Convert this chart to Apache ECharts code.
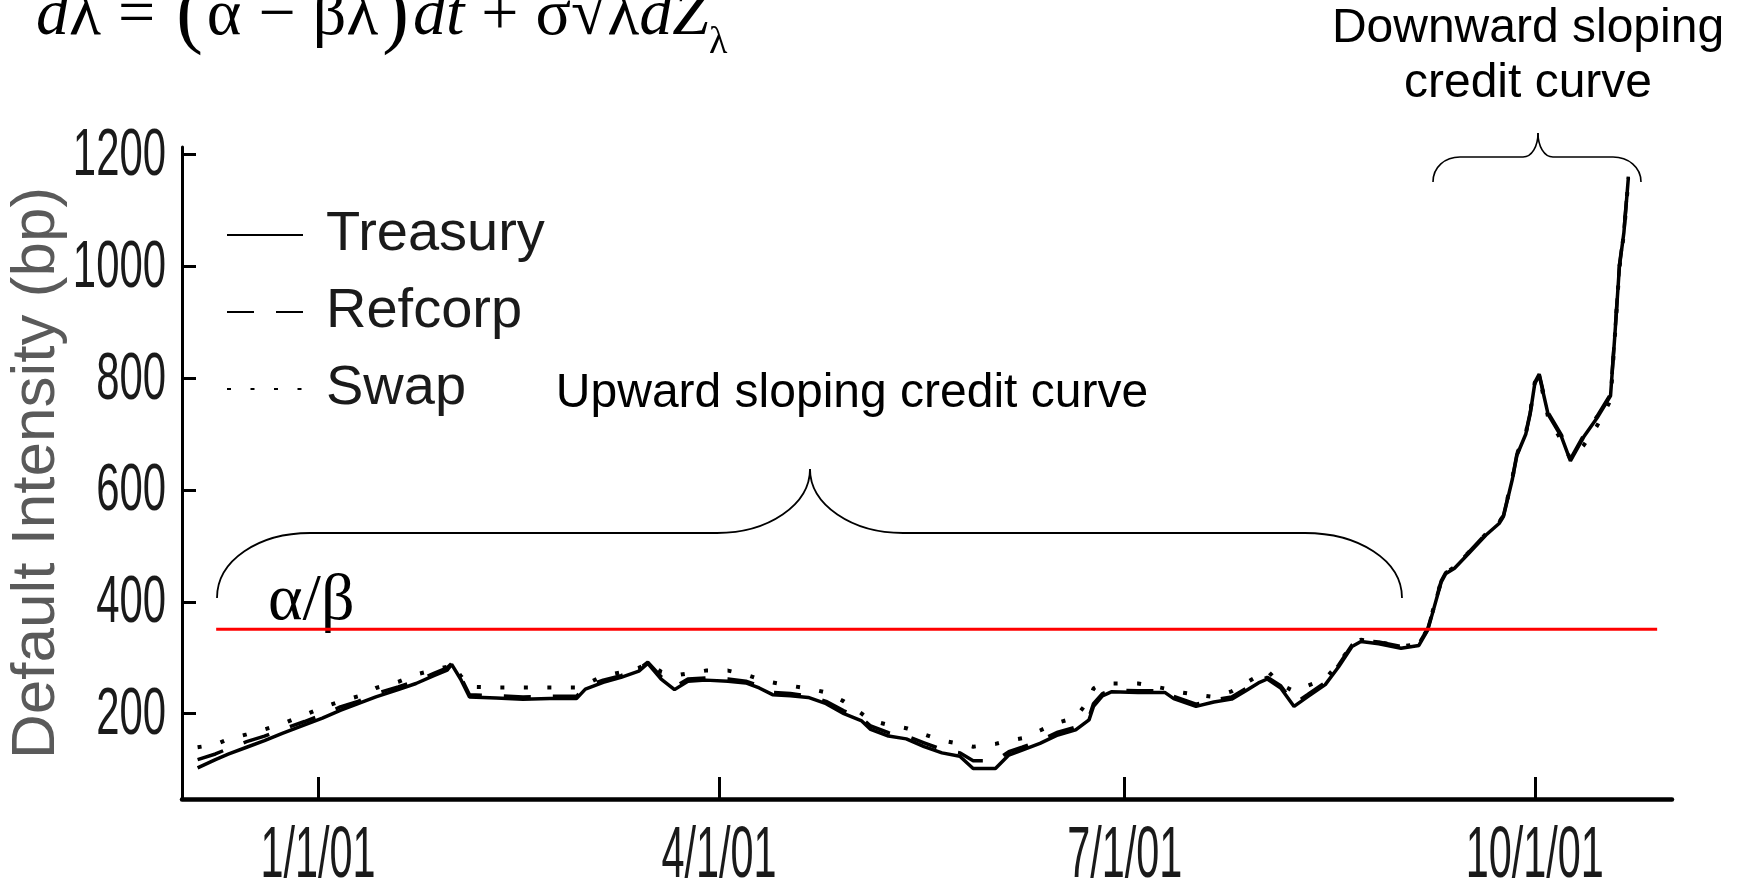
<!DOCTYPE html>
<html>
<head>
<meta charset="utf-8">
<script src="https://cdn.jsdelivr.net/npm/echarts@6/dist/echarts.min.js"></script>
<style>
html,body{margin:0;padding:0;background:#ffffff;}
#chart{width:1741px;height:887px;}
</style>
</head>
<body>
<div id="chart"></div>
<script>
// ---------------- DATA ----------------
const dates = [
  '2000-12-05','2000-12-09','2000-12-12','2000-12-16','2000-12-20','2000-12-24','2000-12-29',
  '2001-01-02','2001-01-06','2001-01-10','2001-01-14','2001-01-19','2001-01-23','2001-01-27','2001-01-30','2001-01-31',
  '2001-02-02','2001-02-04','2001-02-10','2001-02-16','2001-02-22','2001-02-28',
  '2001-03-02','2001-03-06','2001-03-10','2001-03-14','2001-03-16','2001-03-19','2001-03-22','2001-03-25','2001-03-29',
  '2001-04-03','2001-04-07','2001-04-10','2001-04-13','2001-04-17','2001-04-21','2001-04-25','2001-04-29',
  '2001-05-03','2001-05-05','2001-05-09','2001-05-13','2001-05-17','2001-05-21','2001-05-25','2001-05-28',
  '2001-06-02','2001-06-05','2001-06-08','2001-06-12','2001-06-16','2001-06-20','2001-06-23','2001-06-24','2001-06-26','2001-06-28',
  '2001-07-04','2001-07-10','2001-07-12','2001-07-17','2001-07-21','2001-07-25','2001-07-28','2001-07-31',
  '2001-08-02','2001-08-05','2001-08-08','2001-08-11','2001-08-15','2001-08-18','2001-08-21','2001-08-23','2001-08-27',
  '2001-09-01','2001-09-05','2001-09-07','2001-09-08','2001-09-10','2001-09-11','2001-09-13','2001-09-16','2001-09-20','2001-09-23','2001-09-24','2001-09-26','2001-09-27','2001-09-29','2001-09-30',
  '2001-10-01','2001-10-02','2001-10-04','2001-10-07','2001-10-09','2001-10-12','2001-10-15','2001-10-18','2001-10-19','2001-10-20','2001-10-21','2001-10-22'
];
const treasury = [
  103,118,128,140,152,165,180,
  192,206,218,230,243,254,268,278,288,
  262,230,228,226,227,227,
  244,256,265,276,290,262,243,258,260,
  258,255,246,234,232,229,218,200,
  187,172,160,155,141,130,124,102,
  102,126,135,147,162,171,189,213,232,239,
  238,238,227,213,221,226,240,255,
  262,246,213,230,252,284,320,329,325,
  317,322,350,378,435,450,460,485,519,540,553,620,662,700,737,
  790,805,735,695,652,695,729,768,880,1000,1060,1158
];
const refcorp = [
  118,128,138,150,160,172,186,
  198,212,222,236,248,258,272,282,290,
  266,234,232,230,231,231,
  248,260,268,280,292,266,248,262,264,
  262,258,250,238,236,232,222,205,
  192,178,166,160,148,136,130,116,
  116,132,140,152,167,176,194,218,236,242,
  241,241,231,217,225,230,244,258,
  265,250,218,234,256,287,323,331,328,
  320,325,352,380,437,452,462,487,521,542,555,622,664,702,739,
  792,807,738,698,655,698,732,771,882,1002,1062,1160
];
const swap = [
  140,145,155,163,172,182,198,
  211,222,231,246,257,270,278,284,290,
  268,248,247,247,247,247,
  252,268,274,282,290,275,268,272,277,
  277,270,262,256,250,245,238,222,
  200,188,180,174,163,152,146,141,
  146,152,156,170,184,193,225,245,254,254,
  254,245,240,234,230,240,254,268,
  277,252,240,250,262,290,323,332,328,
  320,325,352,380,437,452,462,487,521,542,555,622,664,702,739,
  792,803,730,688,655,680,715,760,878,998,1058,1155
];
const seriesNames = ['Treasury', 'Refcorp', 'Swap'];
const alphaBetaLevel = 351;
const alphaBetaSpan = ['2000-12-09T04:00', '2001-10-28T11:00'];
const xTickDates = ['2001-01-01', '2001-04-01', '2001-07-01', '2001-10-01'];
const xTickLabels = ['1/1/01', '4/1/01', '7/1/01', '10/1/01'];
const yTicks = [200, 400, 600, 800, 1000, 1200];
const yTickLabels = ['200', '400', '600', '800', '1000', '1200'];
const xRange = ['2000-12-01T12:00', '2001-10-31T19:00'];
const yRange = [47.5, 1213];

// ---------------- HELPERS ----------------
// dates are placed on a numeric axis measured in days since 2001-01-01
const EPOCH = Date.UTC(2001, 0, 1);
function dayNum(s) {
  const [d, t] = s.split('T');
  const [y, m, dd] = d.split('-').map(Number);
  let hh = 0, mm = 0;
  if (t) { [hh, mm] = t.split(':').map(Number); }
  return (Date.UTC(y, m - 1, dd, hh, mm) - EPOCH) / 86400000;
}
const xTickDays = xTickDates.map(dayNum);
const pairs = arr => dates.map((d, i) => [dayNum(d), arr[i]]);

const SERIF = "'Liberation Serif','Times New Roman',serif";
const SANS = "'Liberation Sans',Arial,sans-serif";

const chart = echarts.init(document.getElementById('chart'), null, {renderer: 'canvas'});

const lineBase = {type: 'line', symbol: 'none', showSymbol: false, smooth: false, silent: true};

const annotations = [
  // formula
  {type: 'text', x: 36, y: -24, silent: true, style: {
    text: '{i|d}{g|λ}{o|=}{p|(}{g|α}{o|−}{g|βλ}{p|)}{i|dt}{o|+}{g|σ√λ}{i|dZ}{s|λ}',
    fill: '#000',
    rich: {
      i: {fontFamily: SERIF, fontStyle: 'italic', fontSize: 66, lineHeight: 66, verticalAlign: 'middle'},
      g: {fontFamily: SERIF, fontSize: 66, lineHeight: 66, verticalAlign: 'middle'},
      o: {fontFamily: SERIF, fontSize: 66, lineHeight: 66, verticalAlign: 'middle', padding: [0, 17, 0, 17]},
      p: {fontFamily: SERIF, fontSize: 80, lineHeight: 82, verticalAlign: 'middle', padding: [0, 4, 0, 4]},
      s: {fontFamily: SERIF, fontSize: 38, lineHeight: 38, verticalAlign: 'middle', padding: [52, 0, 0, 0]}
    }
  }},
  // annotation texts
  {type: 'text', x: 1528, y: 1, silent: true, style: {
    text: 'Downward sloping\ncredit curve', fill: '#000',
    fontFamily: SANS, fontSize: 48, lineHeight: 55, align: 'center', verticalAlign: 'top'}},
  {type: 'text', x: 852, y: 366, silent: true, style: {
    text: 'Upward sloping credit curve', fill: '#000', fontFamily: SANS, fontSize: 48,
    lineHeight: 55, align: 'center', verticalAlign: 'top'}},
  {type: 'text', x: 268, y: 571, silent: true, style: {
    text: 'α/β', fill: '#000', fontFamily: SERIF, fontSize: 66, lineHeight: 62, align: 'left', verticalAlign: 'top'}},
  // big brace
  {type: 'bezierCurve', silent: true, shape: {x1: 217, y1: 598, cpx1: 217, cpy1: 560, cpx2: 259, cpy2: 533, x2: 310, y2: 533}, style: {stroke: '#000', lineWidth: 1.8, fill: null}},
  {type: 'line', silent: true, shape: {x1: 310, y1: 533, x2: 717, y2: 533}, style: {stroke: '#000', lineWidth: 1.8}},
  {type: 'bezierCurve', silent: true, shape: {x1: 717, y1: 533, cpx1: 768, cpy1: 533, cpx2: 810, cpy2: 505, x2: 810, y2: 469}, style: {stroke: '#000', lineWidth: 1.8, fill: null}},
  {type: 'bezierCurve', silent: true, shape: {x1: 810, y1: 469, cpx1: 810, cpy1: 505, cpx2: 852, cpy2: 533, x2: 903, y2: 533}, style: {stroke: '#000', lineWidth: 1.8, fill: null}},
  {type: 'line', silent: true, shape: {x1: 903, y1: 533, x2: 1305, y2: 533}, style: {stroke: '#000', lineWidth: 1.8}},
  {type: 'bezierCurve', silent: true, shape: {x1: 1305, y1: 533, cpx1: 1358, cpy1: 533, cpx2: 1402, cpy2: 560, x2: 1402, y2: 598}, style: {stroke: '#000', lineWidth: 1.8, fill: null}},
  // small brace
  {type: 'bezierCurve', silent: true, shape: {x1: 1433, y1: 182, cpx1: 1433, cpy1: 167, cpx2: 1445, cpy2: 157, x2: 1460, y2: 157}, style: {stroke: '#000', lineWidth: 1.6, fill: null}},
  {type: 'line', silent: true, shape: {x1: 1460, y1: 157, x2: 1523, y2: 157}, style: {stroke: '#000', lineWidth: 1.6}},
  {type: 'bezierCurve', silent: true, shape: {x1: 1523, y1: 157, cpx1: 1532, cpy1: 157, cpx2: 1538, cpy2: 146, x2: 1538, y2: 133}, style: {stroke: '#000', lineWidth: 1.6, fill: null}},
  {type: 'bezierCurve', silent: true, shape: {x1: 1538, y1: 133, cpx1: 1538, cpy1: 146, cpx2: 1544, cpy2: 157, x2: 1553, y2: 157}, style: {stroke: '#000', lineWidth: 1.6, fill: null}},
  {type: 'line', silent: true, shape: {x1: 1553, y1: 157, x2: 1613, y2: 157}, style: {stroke: '#000', lineWidth: 1.6}},
  {type: 'bezierCurve', silent: true, shape: {x1: 1613, y1: 157, cpx1: 1628, cpy1: 157, cpx2: 1641, cpy2: 167, x2: 1641, y2: 182}, style: {stroke: '#000', lineWidth: 1.6, fill: null}}
];

const option = {
  animation: false,
  backgroundColor: '#ffffff',
  grid: {left: 182, right: 69, top: 147, bottom: 88, containLabel: false, outerBoundsMode: 'none'},
  legend: {
    data: seriesNames,
    orient: 'vertical',
    left: 221,
    top: 200,
    itemWidth: 76,
    itemHeight: 14,
    itemGap: 17,
    selectedMode: false,
    itemStyle: {opacity: 0, borderWidth: 0},
    textStyle: {fontFamily: SANS, fontSize: 56, lineHeight: 60, color: '#1a1a1a', padding: [0, 0, 0, 18]}
  },
  xAxis: {
    type: 'value',
    min: dayNum(xRange[0]),
    max: dayNum(xRange[1]),
    axisLine: {show: true, onZero: false, lineStyle: {color: '#000', width: 4.5}},
    axisTick: {show: true, inside: true, length: 22, lineStyle: {color: '#000', width: 3}, customValues: xTickDays},
    axisLabel: {show: false},
    splitLine: {show: false}
  },
  yAxis: {
    type: 'value',
    min: yRange[0],
    max: yRange[1],
    name: 'Default Intensity (bp)',
    nameLocation: 'middle',
    nameRotate: 90,
    nameGap: 114,
    nameMoveOverlap: false,
    nameTextStyle: {fontFamily: SANS, fontSize: 62, color: '#5a5a5a'},
    axisLine: {show: true, onZero: false, lineStyle: {color: '#000', width: 3}},
    axisTick: {show: true, inside: true, length: 14, lineStyle: {color: '#000', width: 3}, customValues: yTicks},
    axisLabel: {show: false},
    splitLine: {show: false}
  },
  series: [
    Object.assign({}, lineBase, {name: seriesNames[0], data: pairs(treasury), z: 4,
      lineStyle: {color: '#000', width: 3.5, type: 'solid'}, itemStyle: {color: '#000'}}),
    Object.assign({}, lineBase, {name: seriesNames[1], data: pairs(refcorp), z: 3,
      lineStyle: {color: '#000', width: 3.5, type: [27, 22]}, itemStyle: {color: '#000'}}),
    Object.assign({}, lineBase, {name: seriesNames[2], data: pairs(swap), z: 3,
      lineStyle: {color: '#000', width: 4, type: [4, 19.5], cap: 'butt'}, itemStyle: {color: '#000'}}),
    Object.assign({}, lineBase, {name: 'α/β', z: 5,
      data: [[dayNum(alphaBetaSpan[0]), alphaBetaLevel], [dayNum(alphaBetaSpan[1]), alphaBetaLevel]],
      lineStyle: {color: '#ff0000', width: 3}, itemStyle: {color: '#ff0000'}})
  ],
  graphic: {elements: annotations}
};
chart.setOption(option);

// Tick labels in the reference use a strongly condensed face; none is installed,
// so they are drawn as real text squeezed horizontally, placed through the axis scales.
const tickLabelEls = [];
xTickDays.forEach((d, i) => {
  const p = chart.convertToPixel({gridIndex: 0}, [d, yRange[0]]);
  tickLabelEls.push({type: 'text', x: p[0], y: 857, scaleX: 0.575, silent: true, style: {
    text: xTickLabels[i], x: 0, y: 0, align: 'center', verticalAlign: 'middle',
    fontFamily: SANS, fontSize: 72, fill: '#1a1a1a'}});
});
yTicks.forEach((v, i) => {
  const p = chart.convertToPixel({gridIndex: 0}, [dayNum(xRange[0]), v]);
  tickLabelEls.push({type: 'text', x: p[0] - 16, y: p[1] + 2, scaleX: 0.625, silent: true, style: {
    text: yTickLabels[i], x: 0, y: 0, align: 'right', verticalAlign: 'middle',
    fontFamily: SANS, fontSize: 67, fill: '#1a1a1a'}});
});
chart.setOption({graphic: {elements: annotations.concat(tickLabelEls)}});
</script>
</body>
</html>
